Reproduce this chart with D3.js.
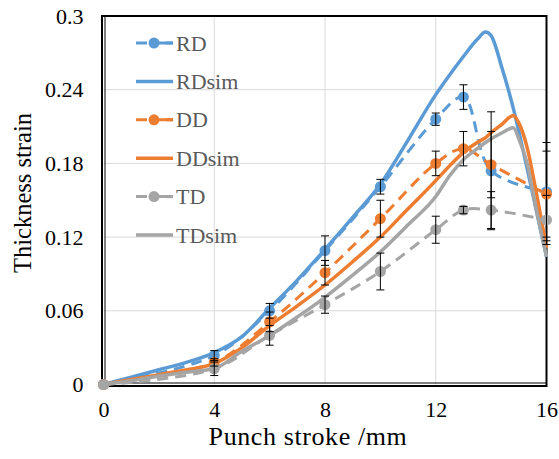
<!DOCTYPE html>
<html>
<head>
<meta charset="utf-8">
<script src="https://cdn.jsdelivr.net/npm/d3@7"></script>
<style>
  body { margin: 0; background: #fff; }
  svg { display: block; }
</style>
</head>
<body>
<svg id="chart" width="559" height="459"></svg>
<script>
// measured points
const stroke = [0, 4, 6, 8, 10, 12, 13, 14, 16];
const rdVals = [0, 0.0236, 0.060, 0.109, 0.161, 0.216, 0.234, 0.174, 0.157];
const ddVals = [0, 0.018, 0.051, 0.091, 0.135, 0.180, 0.192, 0.179, 0.155];
const tdVals = [0, 0.0128, 0.040, 0.065, 0.092, 0.126, 0.142, 0.142, 0.134];
const rdErr = [0, 0.004, 0.006, 0.012, 0.006, 0.005, 0.010, 0.048, 0.040];
const ddErr = [0, 0.003, 0.008, 0.010, 0.015, 0.010, 0.014, 0.027, 0.035];
const tdErr = [0, 0.0055, 0.008, 0.007, 0.015, 0.011, 0.003, 0.015, 0.020];

// simulation curves
const simStroke = [0, 1, 2, 3, 4, 5, 6, 7, 8, 9, 10, 11, 12, 12.5, 13, 13.5, 13.8, 14, 14.4, 14.8, 15.0, 15.3, 15.6, 16];
const rdSim = [0, 0.006, 0.012, 0.018, 0.026, 0.039, 0.062, 0.085, 0.110, 0.136, 0.163, 0.199, 0.236, 0.252, 0.267, 0.281, 0.287, 0.284, 0.257, 0.225, 0.206, 0.176, 0.145, 0.104];
const ddSim = [0, 0.004, 0.008, 0.012, 0.017, 0.030, 0.048, 0.064, 0.081, 0.100, 0.120, 0.143, 0.166, 0.178, 0.189, 0.197, 0.201, 0.205, 0.212, 0.219, 0.213, 0.193, 0.160, 0.111];
const tdSim = [0, 0.003, 0.007, 0.010, 0.013, 0.027, 0.040, 0.055, 0.071, 0.089, 0.108, 0.130, 0.153, 0.170, 0.183, 0.192, 0.197, 0.200, 0.205, 0.209, 0.200, 0.180, 0.146, 0.104];

const xTicks = [0, 4, 8, 12, 16];
const yTicks = [0, 0.06, 0.12, 0.18, 0.24, 0.3];
const yTickLabels = ["0", "0.06", "0.12", "0.18", "0.24", "0.3"];
const legendNames = ["RD", "RDsim", "DD", "DDsim", "TD", "TDsim"];

const colors = { RD: "#5b9bd5", DD: "#ed7d31", TD: "#a5a5a5" };
const serif = '"Liberation Serif"';

const svg = d3.select("#chart");
const margin = { top: 16, right: 12.5, bottom: 74.5, left: 103.5 };
const width = +svg.attr("width") - margin.left - margin.right;
const height = +svg.attr("height") - margin.top - margin.bottom;

const x = d3.scaleLinear().domain([0, 16]).range([margin.left, margin.left + width]);
const y = d3.scaleLinear().domain([0, 0.3]).range([margin.top + height, margin.top]);

// grid
svg.append("g")
  .selectAll("line")
  .data(xTicks.slice(1, -1))
  .enter().append("line")
  .attr("x1", d => x(d)).attr("x2", d => x(d))
  .attr("y1", y(0)).attr("y2", y(0.3))
  .attr("stroke", "#d9d9d9").attr("stroke-width", 1);

svg.append("g")
  .selectAll("line")
  .data(yTicks.slice(1, -1))
  .enter().append("line")
  .attr("x1", x(0)).attr("x2", x(16))
  .attr("y1", d => y(d)).attr("y2", d => y(d))
  .attr("stroke", "#d9d9d9").attr("stroke-width", 1);

// frame
svg.append("rect")
  .attr("x", x(0) - 1.5).attr("y", y(0.3))
  .attr("width", x(16) - x(0) + 1.5).attr("height", y(0) - y(0.3) + 1.5)
  .attr("fill", "none").attr("stroke", "#000").attr("stroke-width", 2);
svg.append("line")
  .attr("x1", x(0) + 1.5).attr("x2", x(0) + 1.5)
  .attr("y1", y(0.3)).attr("y2", y(0) - 1.5)
  .attr("stroke", "#000").attr("stroke-width", 1);
svg.append("line")
  .attr("x1", x(0) + 1.5).attr("x2", x(16))
  .attr("y1", y(0) - 1.5).attr("y2", y(0) - 1.5)
  .attr("stroke", "#000").attr("stroke-width", 1);

// axes labels
const xAxis = svg.append("g")
  .attr("transform", `translate(0,${y(0)})`)
  .call(d3.axisBottom(x).tickValues(xTicks).tickSize(0).tickPadding(17).tickFormat(d3.format("d")));
xAxis.select(".domain").remove();
xAxis.selectAll("text")
  .attr("font-size", 22).attr("fill", "#000");

const yAxis = svg.append("g")
  .attr("transform", `translate(${x(0)},0)`)
  .call(d3.axisLeft(y).tickValues(yTicks).tickSize(0).tickPadding(20)
    .tickFormat((d, i) => yTickLabels[i]));
yAxis.select(".domain").remove();
yAxis.selectAll("text")
  .attr("font-size", 22).attr("fill", "#000");

svg.append("text")
  .attr("x", 308)
  .attr("y", 445)
  .attr("text-anchor", "middle")
  .attr("font-size", 26)
  .attr("letter-spacing", 0.6)
  .text("Punch stroke /mm");

svg.append("text")
  .attr("transform", "rotate(-90)")
  .attr("x", -193)
  .attr("y", 31)
  .attr("text-anchor", "middle")
  .attr("font-size", 24.5)
  .text("Thickness strain");

// lines
const expLine = d3.line()
  .x((d, i) => x(stroke[i]))
  .y(d => y(d))
  .curve(d3.curveCatmullRom);

const simLine = d3.line()
  .x((d, i) => x(simStroke[i]))
  .y(d => y(d))
  .curve(d3.curveMonotoneX);

const series = [
  { name: "RD", vals: rdVals, err: rdErr, sim: rdSim },
  { name: "DD", vals: ddVals, err: ddErr, sim: ddSim },
  { name: "TD", vals: tdVals, err: tdErr, sim: tdSim }
];

series.forEach(s => {
  svg.append("path")
    .datum(s.vals)
    .attr("fill", "none")
    .attr("stroke", colors[s.name])
    .attr("stroke-width", 3)
    .attr("stroke-dasharray", "11 7")
    .attr("d", expLine);

  svg.selectAll(".pt-" + s.name)
    .data(s.vals)
    .enter().append("circle")
    .attr("class", "pt-" + s.name)
    .attr("cx", (d, i) => x(stroke[i]))
    .attr("cy", d => y(d))
    .attr("r", 5.5)
    .attr("fill", colors[s.name]);

  svg.append("path")
    .datum(s.sim)
    .attr("fill", "none")
    .attr("stroke", colors[s.name])
    .attr("stroke-width", 3.5)
    .attr("stroke-linejoin", "round")
    .attr("d", simLine);
});

// error bars
series.forEach(s => {
  const g = svg.append("g").attr("stroke", "#000").attr("stroke-width", 1);
  s.vals.forEach((v, i) => {
    if (!s.err[i]) return;
    const cx = x(stroke[i]);
    const y1 = y(v + s.err[i]);
    const y2 = y(v - s.err[i]);
    g.append("line").attr("x1", cx).attr("x2", cx).attr("y1", y1).attr("y2", y2);
    g.append("line").attr("x1", cx - 4).attr("x2", cx + 4).attr("y1", y1).attr("y2", y1);
    g.append("line").attr("x1", cx - 4).attr("x2", cx + 4).attr("y1", y2).attr("y2", y2);
  });
});

// legend
const legend = svg.append("g").attr("transform", "translate(136,43)");
legendNames.forEach((name, i) => {
  const key = name.slice(0, 2);
  const isSim = name.length > 2;
  const row = legend.append("g").attr("transform", `translate(0,${i * 38.4})`);
  row.append("line")
    .attr("x1", 0).attr("x2", 37)
    .attr("y1", 0).attr("y2", 0)
    .attr("stroke", colors[key])
    .attr("stroke-width", isSim ? 3.5 : 3)
    .attr("stroke-dasharray", isSim ? null : "11 7 20");
  if (!isSim) {
    row.append("line")
      .attr("x1", 30).attr("x2", 37).attr("y1", 0).attr("y2", 0)
      .attr("stroke", colors[key]).attr("stroke-width", 3);
    row.append("circle")
      .attr("cx", 18).attr("cy", 0).attr("r", 5.5)
      .attr("fill", colors[key]);
  }
  row.append("text")
    .attr("x", 40)
    .attr("y", 7.5)
    .attr("font-size", 22)
    .attr("fill", "#595959")
    .text(name);
});

// serif everywhere, set inline so the axis defaults don't win
svg.selectAll("text").style("font-family", serif);
</script>
</body>
</html>
